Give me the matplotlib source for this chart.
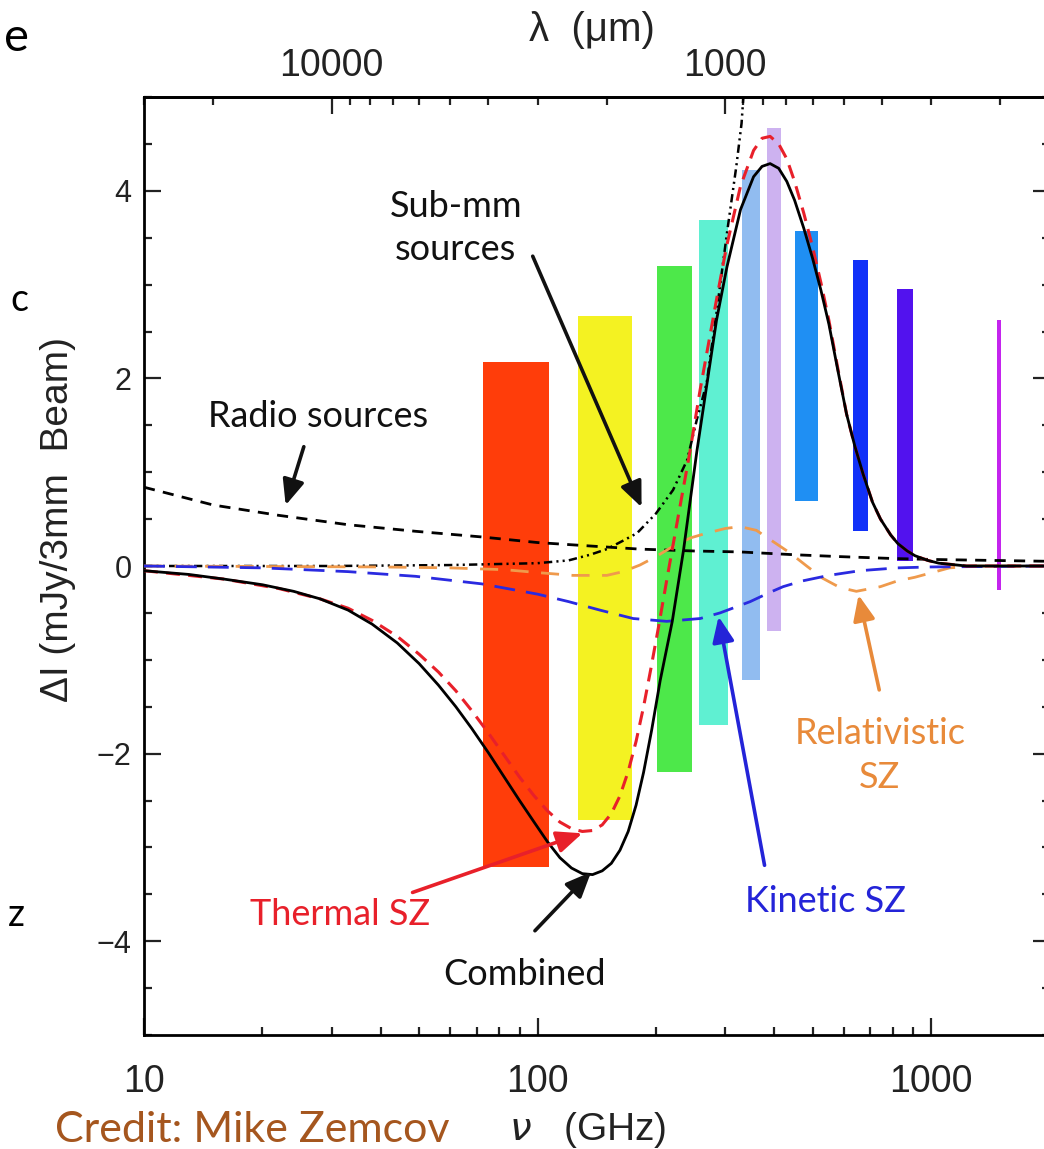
import numpy as np
import matplotlib
matplotlib.use("Agg")
import matplotlib.pyplot as plt
from matplotlib import font_manager
from matplotlib.ticker import FixedLocator, FuncFormatter, LogLocator, NullFormatter

# ---------- fonts ----------
_have = {f.name for f in font_manager.fontManager.ttflist}
TICK_FONT = [f for f in ["Liberation Sans Narrow", "Liberation Sans", "DejaVu Sans"] if f in _have]
NOTE_FONT = [f for f in ["Lato", "Open Sans", "DejaVu Sans"] if f in _have]
plt.rcParams["font.family"] = TICK_FONT
plt.rcParams["lines.scale_dashes"] = False

# ---------- data: frequency bands (GHz) and their extent in mJy/beam ----------
band_lo = [72.7, 126.8, 201.5, 257, 331, 383, 451, 634, 820, 1473]
band_hi = [107.0, 173.8, 247.3, 305, 367, 416, 516, 692, 900, 1507]
band_top = [2.17, 2.67, 3.20, 3.69, 4.22, 4.67, 3.57, 3.26, 2.95, 2.62]
band_bot = [-3.21, -2.71, -2.20, -1.70, -1.22, -0.69, 0.69, 0.37, 0.05, -0.26]
band_col = ["#ff3d0a", "#f4f222", "#4de84a", "#5ff0d2", "#91bcf0",
            "#cdb2f0", "#1f8ff3", "#1131f8", "#5212ee", "#c424ee"]

# ---------- data: spectra ----------
nu_comb = [10, 13, 16, 20, 24, 28, 33, 38, 44, 50, 56, 62, 68, 75, 82, 90, 98,
           106, 114, 122, 130, 138, 146, 154, 162, 170, 178, 186, 195, 205, 220,
           235, 254, 269, 285, 303, 328, 354, 372, 390, 410, 430, 450, 475, 500,
           525, 550, 580, 610, 640, 672, 710, 744, 790, 823, 870, 910, 980, 1047,
           1231, 2000]
dI_comb = [-0.05, -0.09, -0.14, -0.20, -0.27, -0.35, -0.47, -0.62, -0.82, -1.04,
           -1.27, -1.50, -1.73, -1.99, -2.24, -2.50, -2.73, -2.94, -3.11, -3.22,
           -3.28, -3.29, -3.25, -3.17, -3.03, -2.83, -2.55, -2.20, -1.75, -1.22,
           -0.59, 0.17, 1.22, 1.92, 2.62, 3.19, 3.80, 4.15, 4.26, 4.29, 4.24, 4.10,
           3.90, 3.60, 3.28, 2.94, 2.58, 2.08, 1.62, 1.28, 0.98, 0.68, 0.50, 0.33,
           0.24, 0.16, 0.11, 0.06, 0.03, 0.0, 0.0]

nu_tsz = [10, 16, 22, 28, 33, 38, 44, 50, 56, 62, 68, 75, 82, 90, 98, 106, 114,
          122, 130, 138, 146, 154, 162, 170, 178, 186, 194, 203, 213, 226, 244,
          259, 285, 302, 328, 354, 372, 390, 410, 430, 450, 475, 500, 525, 550,
          580, 610, 640, 672, 710, 744, 790, 823, 870, 910, 980, 1047, 1231, 2000]
dI_tsz = [-0.05, -0.14, -0.24, -0.35, -0.45, -0.58, -0.75, -0.94, -1.13, -1.33,
          -1.54, -1.78, -2.01, -2.25, -2.45, -2.61, -2.73, -2.80, -2.83, -2.82,
          -2.76, -2.64, -2.45, -2.19, -1.87, -1.50, -1.10, -0.65, -0.15, 0.45,
          1.22, 1.88, 2.84, 3.40, 4.05, 4.43, 4.56, 4.58, 4.50, 4.34, 4.10, 3.76,
          3.40, 3.02, 2.62, 2.10, 1.62, 1.28, 0.98, 0.68, 0.50, 0.33, 0.24, 0.16,
          0.11, 0.06, 0.03, 0.0, 0.0]

nu_ksz = [10, 20, 33, 49, 72, 100, 120, 144, 175, 213, 259, 291, 347, 390, 421,
          470, 550, 660, 820, 1000, 2000]
dI_ksz = [0.0, -0.02, -0.06, -0.11, -0.19, -0.30, -0.38, -0.47, -0.56, -0.59,
          -0.56, -0.50, -0.38, -0.28, -0.22, -0.16, -0.10, -0.05, -0.02, -0.01, 0.0]

nu_rsz = [10, 40, 60, 83, 100, 123, 150, 165, 182, 200, 221, 245, 269, 300, 327,
          360, 397, 438, 483, 530, 587, 646, 744, 820, 910, 1114, 1300, 2000]
dI_rsz = [0.0, -0.01, -0.02, -0.04, -0.07, -0.10, -0.10, -0.06, 0.01, 0.10, 0.21,
          0.30, 0.35, 0.40, 0.42, 0.38, 0.26, 0.14, 0.0, -0.13, -0.23, -0.27,
          -0.22, -0.16, -0.12, -0.02, 0.0, 0.0]

nu_radio = [10, 15, 22, 33, 49, 72, 100, 140, 182, 250, 327, 450, 587, 800, 1000, 1400, 2000]
dI_radio = [0.84, 0.65, 0.54, 0.44, 0.37, 0.31, 0.25, 0.21, 0.18, 0.16, 0.15,
            0.12, 0.10, 0.08, 0.07, 0.06, 0.05]

nu_smm = [10, 30, 60, 100, 120, 136, 150, 165, 179, 200, 221, 240, 254, 269, 285,
          303, 320, 330, 336]
dI_smm = [0.0, 0.0, 0.01, 0.03, 0.06, 0.12, 0.18, 0.27, 0.35, 0.56, 0.81, 1.13,
          1.56, 1.95, 2.70, 3.55, 4.26, 4.72, 5.20]

xticks_bottom = [10, 100, 1000]
xticks_top = [10000, 1000]
yticks_major = [-4, -2, 0, 2, 4]

# ---------- figure ----------
W, H = 1044, 1149
fig = plt.figure(figsize=(W / 100, H / 100), dpi=100)
ax = fig.add_axes([144 / W, (H - 1035) / H, 905.5 / W, (1035 - 97) / H])
ax.set_xscale("log")
ax.set_xlim(10, 2000)
ax.set_ylim(-5, 5)

ax.bar(x=band_lo, height=np.subtract(band_top, band_bot),
       width=np.subtract(band_hi, band_lo), bottom=band_bot, align="edge",
       color=band_col, linewidth=0, zorder=1)

ax.plot(nu_radio, dI_radio, color="black", lw=2.0, dashes=(8, 6), zorder=3)
ax.plot(nu_smm, dI_smm, color="black", lw=1.8, dashes=(6, 3, 1.5, 3, 1.5, 3), zorder=3)
ax.plot(nu_rsz, dI_rsz, color="#ef9a4c", lw=2.0, dashes=(13, 9), zorder=3)
ax.plot(nu_ksz, dI_ksz, color="#2a2ae0", lw=2.0, dashes=(15, 8), zorder=3)
ax.plot(nu_tsz, dI_tsz, color="#e8202a", lw=2.2, dashes=(10, 6), zorder=4)
ax.plot(nu_comb, dI_comb, color="black", lw=2.0, zorder=5)

# ---------- axes styling ----------
for sp in ax.spines.values():
    sp.set_linewidth(2.0)
ax.yaxis.set_major_locator(FixedLocator(yticks_major))
ax.yaxis.set_minor_locator(FixedLocator(np.arange(-5, 5.01, 0.5)))
ax.xaxis.set_major_locator(FixedLocator(xticks_bottom))
ax.xaxis.set_minor_locator(LogLocator(base=10, subs=np.arange(2, 10)))
ax.xaxis.set_major_formatter(FuncFormatter(lambda v, p: f"{v:g}"))
ax.xaxis.set_minor_formatter(NullFormatter())
ax.tick_params(which="both", direction="in", top=False, right=True,
               width=1.6, colors="#222222")
ax.tick_params(which="major", length=12)
ax.tick_params(which="minor", length=6)
ax.tick_params(axis="x", labelsize=27, pad=21)
ax.tick_params(axis="y", labelsize=22, pad=9)

lam = lambda x: 3e5 / np.asarray(x, dtype=float)
sec = ax.secondary_xaxis("top", functions=(lam, lam))
sec.xaxis.set_major_locator(FixedLocator(xticks_top))
sec.xaxis.set_minor_locator(LogLocator(base=10, subs=np.arange(2, 10)))
sec.xaxis.set_major_formatter(FuncFormatter(lambda v, p: f"{v:g}"))
sec.xaxis.set_minor_formatter(NullFormatter())
sec.tick_params(which="both", direction="in", width=1.6, labelsize=27,
                colors="#222222")
sec.tick_params(which="major", length=12, pad=9)
sec.tick_params(which="minor", length=6)
sec.spines["top"].set_linewidth(2.0)

# ---------- axis labels ----------
fig.text(58 / W, 1 - 520 / H, "ΔI (mJy/3mm  Beam)", rotation=90, ha="center",
         va="center", fontsize=28, color="#222222")
fig.text(588 / W, 1 - 1130 / H, r"$\nu$   (GHz)", ha="center", va="center",
         fontsize=28, color="#222222")
fig.text(592 / W, 1 - 30 / H, "λ  (μm)", ha="center", va="center",
         fontsize=29, color="#222222")

# ---------- annotations ----------
def note(txt, xy_text, xy_head, color, tail=None):
    ax.text(*xy_text, txt, ha="center", va="center", fontsize=26,
            color=color, family=NOTE_FONT, linespacing=1.38, zorder=6)
    if tail is not None:
        ax.annotate("", xy=xy_head, xytext=tail,
                    arrowprops=dict(arrowstyle="-|>,head_length=0.7,head_width=0.3",
                                    color=color, lw=2.6, mutation_scale=22),
                    zorder=6)

note("Sub-mm\nsources", (62, 3.6), (185, 0.60), "#111111", tail=(96.6, 3.33))
note("Radio sources", (27.7, 1.59), (22.8, 0.62), "#111111", tail=(25.6, 1.30))
note("Thermal SZ", (31.5, -3.72), (132, -2.84), "#e8202a", tail=(47.4, -3.49))
note("Combined", (92.9, -4.36), (138.4, -3.24), "#111111", tail=(97.4, -3.91))
note("Kinetic SZ", (540, -3.58), (287.6, -0.51), "#2424d8", tail=(378.6, -3.22))
note("Relativistic\nSZ", (741, -2.02), (652, -0.28), "#e88a3a", tail=(741, -1.35))

# ---------- slide text around the figure ----------
fig.text(55 / W, 1 - 1130 / H, "Credit: Mike Zemcov", ha="left", va="center",
         fontsize=31, color="#a5561e", family=NOTE_FONT)
fig.text(4 / W, 1 - 38 / H, "e", ha="left", va="center", fontsize=34,
         color="black", family=NOTE_FONT)
fig.text(10 / W, 1 - 300 / H, "c", ha="left", va="center", fontsize=27,
         color="black", family=NOTE_FONT)
fig.text(8 / W, 1 - 915 / H, "z", ha="left", va="center", fontsize=27,
         color="black", family=NOTE_FONT)

fig.savefig("out.png", dpi=100)
